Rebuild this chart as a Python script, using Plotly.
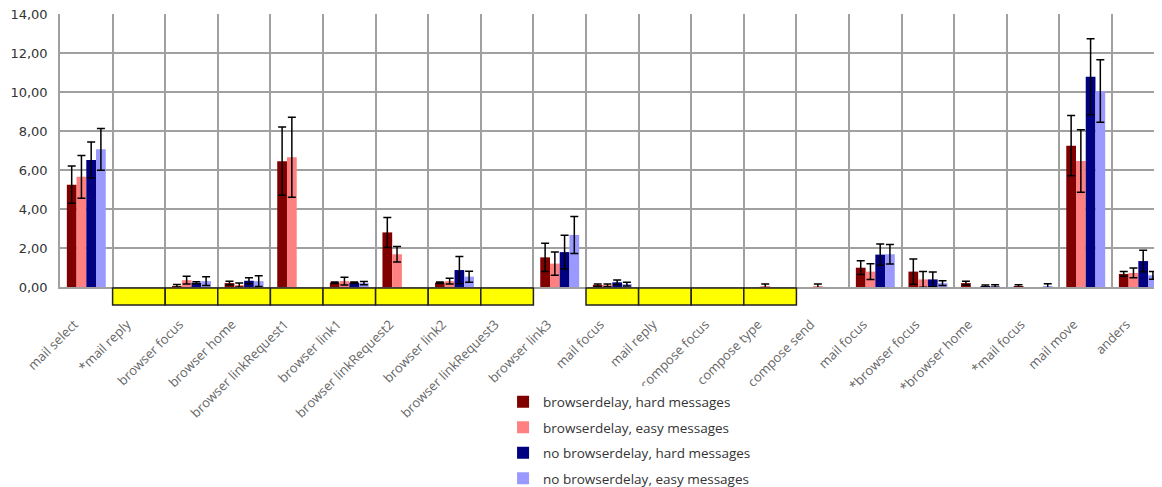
import plotly.graph_objects as go

categories = ["mail select", "*mail reply", "browser focus", "browser home", "browser linkRequest1",
              "browser link1", "browser linkRequest2", "browser link2", "browser linkRequest3",
              "browser link3", "mail focus", "mail reply", "compose focus", "compose type",
              "compose send", "mail focus", "*browser focus", "*browser home", "*mail focus",
              "mail move", "anders"]
highlighted = [0, 1, 1, 1, 1, 1, 1, 1, 1, 0, 1, 1, 1, 1, 0, 0, 0, 0, 0, 0, 0]

series_names = ["browserdelay, hard messages", "browserdelay, easy messages",
                "no browserdelay, hard messages", "no browserdelay, easy messages"]

bd_hard = [5.25, None, 0.05, 0.2, 6.45, 0.22, 2.8, 0.22, None, 1.52, 0.08, None, None, None, None, 0.99, 0.79, 0.2, 0.05, 7.25, 0.67]
bd_hard_err = [0.96, None, 0.08, 0.1, 1.75, 0.04, 0.77, 0.04, None, 0.73, 0.07, None, None, None, None, 0.35, 0.65, 0.1, 0.07, 1.54, 0.12]
bd_easy = [5.65, None, 0.35, 0.1, 6.65, 0.3, 1.68, 0.3, None, 1.2, 0.08, None, None, 0.03, 0.03, 0.79, 0.39, None, None, 6.46, 0.72]
bd_easy_err = [1.1, None, 0.2, 0.1, 2.05, 0.2, 0.4, 0.15, None, 0.6, 0.07, None, None, 0.12, 0.12, 0.4, 0.4, None, None, 1.6, 0.25]
nbd_hard = [6.51, None, 0.22, 0.32, None, 0.22, None, 0.87, None, 1.79, 0.24, None, None, None, None, 1.66, 0.39, 0.05, None, 10.78, 1.33]
nbd_hard_err = [0.92, None, 0.05, 0.15, None, 0.04, None, 0.7, None, 0.87, 0.12, None, None, None, None, 0.55, 0.38, 0.05, None, 1.95, 0.55]
nbd_easy = [7.06, None, 0.3, 0.3, None, 0.2, None, 0.53, None, 2.67, 0.15, None, None, None, None, 1.68, 0.2, 0.05, 0.05, 10.05, 0.6]
nbd_easy_err = [1.07, None, 0.22, 0.28, None, 0.08, None, 0.28, None, 0.95, 0.1, None, None, None, None, 0.5, 0.12, 0.06, 0.12, 1.6, 0.2]

colors = ["#800000", "#FF8080", "#000080", "#9999FF"]
values = [bd_hard, bd_easy, nbd_hard, nbd_easy]
errors = [bd_hard_err, bd_easy_err, nbd_hard_err, nbd_easy_err]

x = list(range(len(categories)))

fig = go.Figure()
for name, vals, errs, col in zip(series_names, values, errors, colors):
    fig.add_trace(go.Bar(
        x=x, y=vals, name=name, marker=dict(color=col, line=dict(width=0)),
        legendgroup=name,
        error_y=dict(type="data", array=errs, visible=True, color="black", thickness=1.5, width=4),
    ))

shapes = []
for i, h in enumerate(highlighted):
    if h:
        shapes.append(dict(type="rect", xref="x", yref="paper", x0=i - 0.5, x1=i + 0.5,
                           y0=-0.004, y1=-0.066, fillcolor="#FFFF00",
                           line=dict(color="#222222", width=1.5), layer="above"))

fig.update_layout(
    width=1154, height=479,
    margin=dict(l=52, r=0, t=6, b=200, autoexpand=False),
    plot_bgcolor="white", paper_bgcolor="white",
    barmode="group", bargap=0.26, bargroupgap=0,
    separators=",.",
    shapes=shapes,
    showlegend=True,
    legend=dict(xref="container", yref="container", x=0.429, y=0.21, xanchor="left", yanchor="top",
                font=dict(family="Open Sans", size=13.5, color="#333333"),
                tracegroupgap=5, itemwidth=30),
    xaxis=dict(range=[-0.5, 20.45], tickmode="array", tickvals=x, ticktext=categories,
               tickangle=-45, showgrid=False, zeroline=False, ticks="", automargin=False,
               tickfont=dict(family="Open Sans", size=13, color="#666666"),
               ticklabelshift=-12, ticklabelstandoff=23, ticklabeloverflow="allow",
               minor=dict(tickmode="linear", tick0=-0.5, dtick=1, showgrid=True,
                          gridcolor="#A0A0A0", gridwidth=1.5, ticks=""),
               showline=True, linecolor="#A0A0A0", linewidth=1.5),
    yaxis=dict(range=[0, 14], dtick=2, tickformat=".2f", showgrid=True, automargin=False,
               gridcolor="#A0A0A0", gridwidth=1.5, zeroline=False,
               showline=True, linecolor="#A0A0A0", linewidth=1.5,
               tickfont=dict(family="DejaVu Sans", size=13, color="#333333"),
               ticks="", ticklabelstandoff=8, ticklabeloverflow="allow"),
)

fig.write_html("out.html")
